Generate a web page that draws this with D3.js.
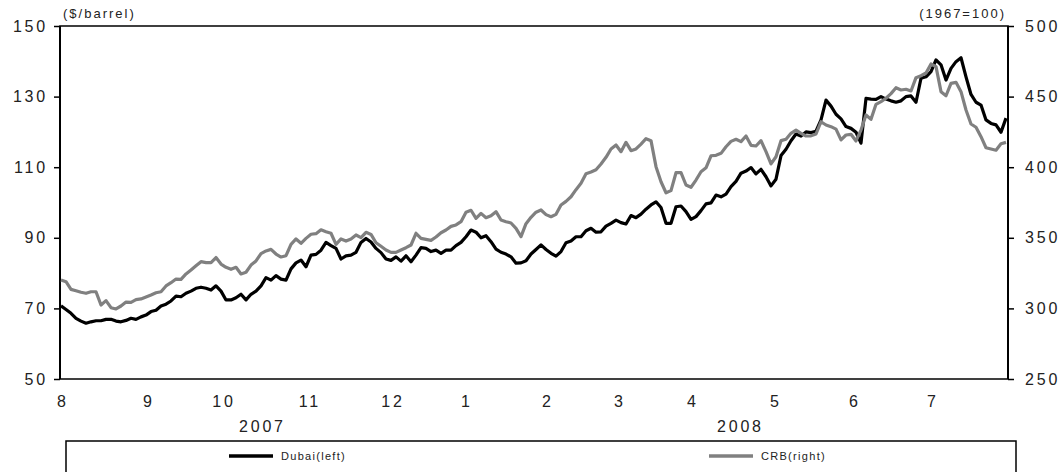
<!DOCTYPE html>
<html><head><meta charset="utf-8">
<script src="https://cdn.jsdelivr.net/npm/d3@7"></script>
<style>
html,body{margin:0;padding:0;background:#fff;}
svg{display:block;}
.tk text{font-family:"Liberation Sans",Arial,sans-serif;font-size:16px;fill:#222;letter-spacing:2.8px;}
</style></head>
<body>
<svg id="c" width="1064" height="472"></svg>
<script>
// Dubai crude ($/barrel, left axis) — sampled evenly over Aug 2007 – Jul 2008
const dubai = [70.7,69.7,68.6,67.2,66.4,65.8,66.2,66.5,66.5,66.9,66.9,66.4,66.2,66.6,67.2,66.9,67.6,68.1,69.1,69.5,
70.7,71.2,72.1,73.5,73.3,74.3,74.9,75.7,76.0,75.7,75.2,76.4,74.9,72.4,72.4,73.0,74.0,72.4,74.0,74.9,
76.4,78.7,78.0,79.3,78.3,78.0,81.2,82.9,83.7,81.8,85.1,85.3,86.5,88.7,87.8,87.0,84.0,84.9,85.1,85.9,
88.7,89.8,88.8,87.0,85.8,84.0,83.6,84.6,83.4,84.9,83.2,85.1,87.2,87.0,86.1,86.5,85.6,86.5,86.5,87.8,
88.7,90.3,92.2,91.6,90.0,90.6,88.9,86.8,85.9,85.4,84.6,82.8,82.9,83.5,85.4,86.7,88.0,86.7,85.6,84.8,
86.1,88.6,89.1,90.3,90.3,92.0,92.7,91.6,91.7,93.3,94.1,95.0,94.3,93.9,96.3,95.7,96.7,98.1,99.3,100.2,
98.6,94.1,94.1,98.8,99.0,97.4,95.2,96.0,97.7,99.6,99.9,102.1,101.6,102.4,104.5,106.0,108.3,108.9,109.9,108.1,
109.4,107.3,104.7,106.6,113.3,115.1,117.5,119.4,118.8,120.0,119.8,120.2,123.4,129.0,127.3,125.0,123.7,121.5,121.0,119.9,
116.8,129.5,129.3,129.2,130.0,129.3,128.8,128.4,128.8,130.0,130.2,128.4,135.2,135.6,137.1,140.4,139.0,134.7,138.0,139.9,
141.0,135.6,130.6,128.4,127.6,123.4,122.4,122.0,119.9,123.9];

// CRB index (1967=100, right axis)
const crb = [320.1,318.9,313.5,312.5,311.4,310.7,311.8,311.8,302.4,305.5,300.5,299.6,301.7,304.5,304.3,306.2,306.7,308.1,309.5,311.1,
311.8,315.9,318.2,320.8,320.6,324.4,327.2,330.2,333.1,332.4,332.4,336.0,331.4,329.1,327.7,329.1,324.4,325.6,330.7,333.6,
338.8,340.7,341.8,338.5,336.4,337.3,345.4,349.2,346.1,349.6,352.5,352.9,355.7,354.3,353.2,345.4,349.2,347.7,349.2,352.0,
350.1,353.9,352.4,346.5,344.0,341.4,339.7,339.7,341.4,343.0,344.9,353.2,349.6,348.9,348.2,350.6,353.6,355.5,358.1,359.1,
361.4,368.1,369.5,363.8,367.3,364.2,365.6,368.5,362.6,361.4,360.5,356.7,350.8,360.0,364.5,368.1,369.7,366.4,364.9,366.6,
373.2,375.8,379.1,384.1,388.6,395.4,396.6,398.2,402.3,407.0,412.9,415.7,411.0,417.6,411.7,412.9,416.4,420.2,418.8,400.4,
389.7,381.9,383.4,396.1,396.2,387.4,385.8,390.9,396.8,399.6,408.1,408.4,409.8,414.5,418.3,419.8,418.1,422.1,415.5,415.0,
418.8,411.0,402.3,407.4,418.8,419.8,424.0,426.3,424.0,422.1,422.2,423.5,432.2,429.9,428.7,427.0,419.3,422.8,423.3,418.6,
426.3,437.0,433.9,444.5,446.4,448.8,452.1,456.3,454.7,455.2,454.0,463.4,464.8,466.7,473.1,471.2,453.5,450.6,459.4,460.1,
453.5,440.5,430.6,428.3,421.6,413.8,412.9,412.0,416.6,417.6];

const monthLabels = ["8","9","10","11","12","1","2","3","4","5","6","7"];
const monthIdx = [0, 17.2, 32.2, 49.4, 66, 80.8, 97, 111.4, 126, 142.6, 158.4, 174];
const yearLabels = ["2007","2008"];
const yearIdx = [40, 135.6];
const leftTicks = [50,70,90,110,130,150];
const rightTicks = [250,300,350,400,450,500];
const seriesNames = ["Dubai(left)","CRB(right)"];
const unitLeft = "($/barrel)", unitRight = "(1967=100)";

const svg = d3.select("#c");
const L=60, R=1008, T=26, B=379;
const x = d3.scaleLinear().domain([0, dubai.length-1]).range([61, 1006]);
const yL = d3.scaleLinear().domain([50,150]).range([B,T]);
const yR = d3.scaleLinear().domain([250,500]).range([B,T]);

// left axis
const gl = svg.append("g").attr("class","tk").attr("transform",`translate(${L},0)`)
  .call(d3.axisLeft(yL).tickValues(leftTicks).tickSize(6).tickPadding(9));
gl.select(".domain").remove();
gl.selectAll("line").attr("stroke","#000").attr("stroke-width",1.5);
gl.selectAll("text").attr("dx","3px");

// right axis
const gr = svg.append("g").attr("class","tk").attr("transform",`translate(${R},0)`)
  .call(d3.axisRight(yR).tickValues(rightTicks).tickSize(6).tickPadding(11));
gr.select(".domain").remove();
gr.selectAll("line").attr("stroke","#000").attr("stroke-width",1.5);

// bottom month labels
const gb = svg.append("g").attr("class","tk").attr("transform",`translate(0,${B})`)
  .call(d3.axisBottom(x).tickValues(monthIdx).tickFormat((d,i)=>monthLabels[i]).tickSize(0).tickPadding(17));
gb.select(".domain").remove();
gb.selectAll("text").attr("dx","1.4px");

svg.append("g").attr("class","tk").selectAll("text").data(yearLabels).join("text")
  .attr("x",(d,i)=>x(yearIdx[i])+1.4).attr("y",432).attr("text-anchor","middle").text(d=>d);

// frame
svg.append("rect").attr("x",L).attr("y",T).attr("width",R-L).attr("height",B-T)
  .attr("fill","none").attr("stroke","#000").attr("stroke-width",1.5);
svg.append("line").attr("x1",L).attr("x2",L).attr("y1",T).attr("y2",B).attr("stroke","#000").attr("stroke-width",2);
svg.append("line").attr("x1",R).attr("x2",R).attr("y1",T).attr("y2",B).attr("stroke","#000").attr("stroke-width",2);

// unit labels
svg.append("text").attr("x",63).attr("y",18).text(unitLeft)
  .style("font-family","Liberation Sans, Arial, sans-serif").style("font-size","13px").style("letter-spacing","2px").attr("fill","#222");
svg.append("text").attr("x",1006).attr("y",18).attr("text-anchor","end").text(unitRight)
  .style("font-family","Liberation Sans, Arial, sans-serif").style("font-size","13px").style("letter-spacing","2px").attr("fill","#222");

// lines
const lineL = d3.line().x((d,i)=>x(i)).y(d=>yL(d));
const lineR = d3.line().x((d,i)=>x(i)).y(d=>yR(d));
svg.append("path").datum(dubai).attr("d",lineL).attr("fill","none").attr("stroke","#000")
  .attr("stroke-width",3.2).attr("stroke-linejoin","round");
svg.append("path").datum(crb).attr("d",lineR).attr("fill","none").attr("stroke","#808080")
  .attr("stroke-width",3.2).attr("stroke-linejoin","round");

// legend
svg.append("rect").attr("x",66).attr("y",441).attr("width",950).attr("height",60)
  .attr("fill","none").attr("stroke","#000").attr("stroke-width",1.5);
const legX = [229, 709];
const legColors = ["#000","#808080"];
const lg = svg.append("g").selectAll("g").data(seriesNames).join("g")
  .attr("transform",(d,i)=>`translate(${legX[i]},456)`);
lg.append("line").attr("x1",0).attr("x2",44).attr("stroke",(d,i)=>legColors[i]).attr("stroke-width",3.5);
lg.append("text").attr("x",52).attr("y",4).text(d=>d)
  .style("font-family","Liberation Sans, Arial, sans-serif").style("font-size","11px").style("letter-spacing","1.3px").attr("fill","#222");
</script>
</body></html>
